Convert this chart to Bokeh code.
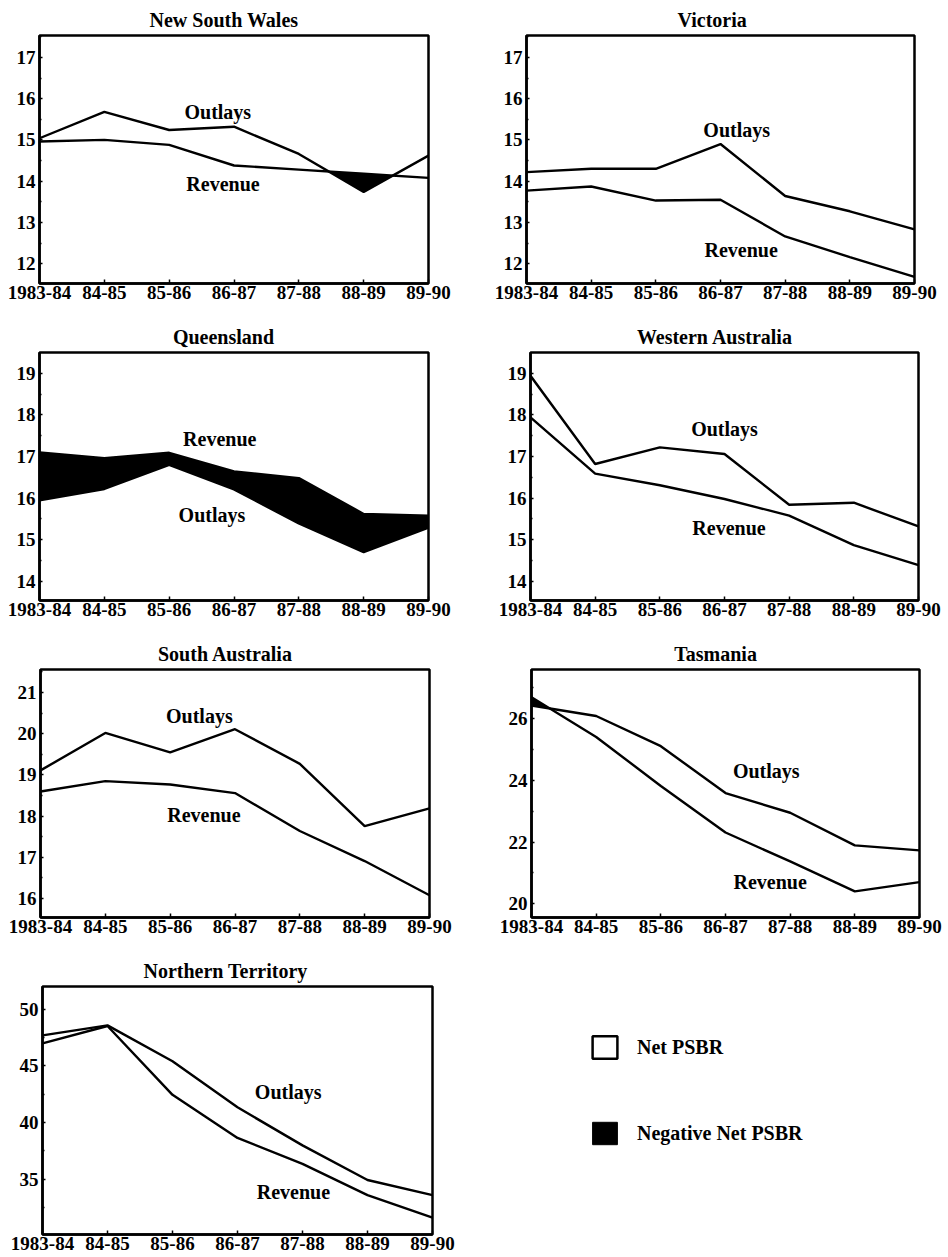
import numpy as np
from bokeh.plotting import figure
from bokeh.layouts import column, row
from bokeh.models import Range1d, FixedTicker, Legend, LegendItem
from bokeh.core.properties import value
from bokeh.embed import file_html
from bokeh.resources import INLINE

periods = ["1983-84", "84-85", "85-86", "86-87", "87-88", "88-89", "89-90"]

nsw_outlays = [15.04, 15.68, 15.24, 15.32, 14.66, 13.74, 14.62]
nsw_revenue = [14.96, 15.00, 14.88, 14.38, 14.28, 14.18, 14.08]

vic_outlays = [14.22, 14.30, 14.30, 14.90, 13.64, 13.27, 12.83]
vic_revenue = [13.77, 13.87, 13.53, 13.55, 12.66, 12.16, 11.68]

qld_outlays = [15.95, 16.22, 16.80, 16.21, 15.39, 14.70, 15.29]
qld_revenue = [17.10, 16.96, 17.09, 16.64, 16.48, 15.62, 15.58]

wa_outlays = [18.94, 16.82, 17.22, 17.06, 15.84, 15.89, 15.32]
wa_revenue = [17.94, 16.59, 16.31, 15.98, 15.58, 14.87, 14.39]

sa_outlays = [19.11, 20.02, 19.55, 20.11, 19.27, 17.76, 18.19]
sa_revenue = [18.60, 18.85, 18.77, 18.56, 17.64, 16.91, 16.08]

tas_outlays = [26.43, 26.09, 25.11, 23.59, 22.95, 21.89, 21.73]
tas_revenue = [26.70, 25.41, 23.82, 22.31, 21.37, 20.40, 20.70]

nt_outlays = [47.68, 48.57, 45.40, 41.33, 37.97, 34.91, 33.58]
nt_revenue = [46.97, 48.51, 42.43, 38.63, 36.34, 33.58, 31.59]

FONT = "Liberation Serif"
FS = "19px"
FS_BIG = "20px"
LW = 2.4

# approximate Times-Bold advance widths (per em) for centring titles
_W = {" ": .25, "A": .722, "N": .722, "S": .556, "T": .667, "V": .722, "W": 1.0,
      "Q": .778, "a": .5, "c": .444, "d": .556, "e": .444, "h": .556, "i": .278,
      "l": .278, "m": .833, "n": .556, "o": .5, "r": .444, "s": .389, "t": .333,
      "u": .556, "w": .722, "y": .5}


def text_width(s, px):
    return sum(_W.get(ch, .5) for ch in s) * px


def neg_area(x, out, rev):
    xs = []
    for i in range(len(x) - 1):
        xs.append(x[i])
        d0 = rev[i] - out[i]
        d1 = rev[i + 1] - out[i + 1]
        if d0 * d1 < 0:
            xs.append(x[i] + d0 / (d0 - d1))
    xs.append(x[-1])
    xs = np.array(xs, dtype=float)
    o = np.interp(xs, x, out)
    r = np.interp(xs, x, rev)
    return xs, o, np.maximum(o, r)


def panel(title, outlays, revenue, yr, yticks, yminor, labels, left, right, bottom,
          title_center):
    x = list(range(len(periods)))
    p = figure(frame_width=948 // 2 - left - right, frame_height=248,
               x_range=Range1d(0, len(periods) - 1), y_range=Range1d(*yr),
               output_backend="svg", toolbar_location=None, tools="",
               min_border_left=left, min_border_right=right,
               min_border_top=35, min_border_bottom=bottom,
               background_fill_color="white", border_fill_color="white")
    p.title.text = title
    p.title.text_font = FONT
    p.title.text_font_style = "bold"
    p.title.text_font_size = FS_BIG
    p.title.text_color = "black"
    p.title.align = "left"
    # centre the title on the panel (as in the original), not on the frame
    p.title.offset = title_center - left - text_width(title, 20) / 2
    p.title.standoff = 9
    p.grid.visible = False
    p.outline_line_color = "black"
    p.outline_line_width = 2.5
    p.outline_line_alpha = 1

    xs, lo, hi = neg_area(x, outlays, revenue)
    p.varea(x=xs, y1=lo, y2=hi, fill_color="black")
    p.line(x, outlays, line_color="black", line_width=LW)
    p.line(x, revenue, line_color="black", line_width=LW)

    for txt, (lx, ly) in labels.items():
        p.text(x=[lx], y=[ly], text=[txt], text_font=value(FONT),
               text_font_style="bold", text_font_size=FS_BIG,
               text_align="center", text_baseline="middle", text_color="black")

    xa = p.xaxis[0]
    xa.ticker = FixedTicker(ticks=x)
    xa.major_label_overrides = {i: s for i, s in enumerate(periods)}
    xa.major_tick_in = 4
    xa.major_tick_out = 0
    xa.minor_tick_line_color = None
    xa.major_label_standoff = 2

    ya = p.yaxis[0]
    ya.ticker = FixedTicker(ticks=yticks, minor_ticks=yminor)
    ya.major_tick_in = 3
    ya.major_tick_out = 0
    ya.minor_tick_in = 2
    ya.minor_tick_out = 0
    ya.major_label_standoff = 4

    for ax in (xa, ya):
        ax.axis_line_width = 2.5
        ax.axis_line_color = "black"
        ax.major_tick_line_width = 1.5
        ax.minor_tick_line_width = 1.5
        ax.major_label_text_font = FONT
        ax.major_label_text_font_style = "bold"
        ax.major_label_text_font_size = FS
        ax.major_label_text_color = "black"
    return p


def halves(ticks, step, lo, hi):
    return [t + step / 2 for t in [ticks[0] - step] + ticks if lo < t + step / 2 < hi]


nsw = panel("New South Wales", nsw_outlays, nsw_revenue, (11.52, 17.53),
            [12, 13, 14, 15, 16, 17], halves([12, 13, 14, 15, 16, 17], 1, 11.52, 17.53),
            {"Outlays": (2.75, 15.68), "Revenue": (2.83, 13.92)}, 39, 46, 34, 224)
vic = panel("Victoria", vic_outlays, vic_revenue, (11.52, 17.53),
            [12, 13, 14, 15, 16, 17], halves([12, 13, 14, 15, 16, 17], 1, 11.52, 17.53),
            {"Outlays": (3.25, 15.23), "Revenue": (3.32, 12.32)}, 52, 34, 34, 238)
qld = panel("Queensland", qld_outlays, qld_revenue, (13.54, 19.5),
            [14, 15, 16, 17, 18, 19], halves([14, 15, 16, 17, 18, 19], 1, 13.54, 19.5),
            {"Revenue": (2.78, 17.43), "Outlays": (2.66, 15.59)}, 39, 46, 34, 223)
wa = panel("Western Australia", wa_outlays, wa_revenue, (13.54, 19.5),
           [14, 15, 16, 17, 18, 19], halves([14, 15, 16, 17, 18, 19], 1, 13.54, 19.5),
           {"Outlays": (3.0, 17.66), "Revenue": (3.07, 15.28)}, 56, 30, 34, 241)
sa = panel("South Australia", sa_outlays, sa_revenue, (15.54, 21.56),
           [16, 17, 18, 19, 20, 21], halves([16, 17, 18, 19, 20, 21], 1, 15.54, 21.56),
           {"Outlays": (2.45, 20.42), "Revenue": (2.52, 18.02)}, 40, 45, 34, 225)
tas = panel("Tasmania", tas_outlays, tas_revenue, (19.55, 27.6),
            [20, 22, 24, 26], halves([20, 22, 24, 26], 2, 19.55, 27.6),
            {"Outlays": (3.63, 24.32), "Revenue": (3.69, 20.70)}, 57, 29, 34, 242)
nt = panel("Northern Territory", nt_outlays, nt_revenue, (30.1, 52.0),
           [35, 40, 45, 50], halves([35, 40, 45, 50], 5, 30.1, 52.0),
           {"Outlays": (3.78, 42.72), "Revenue": (3.86, 33.81)}, 42, 42, 22, 226)

# legend panel (swatch renderers sit outside the visible range; only the legend shows them)
lg = figure(width=474, height=305, x_range=Range1d(0, 1), y_range=Range1d(0, 1),
            output_backend="svg", toolbar_location=None, tools="",
            x_axis_location=None, y_axis_location=None,
            min_border=0, outline_line_color=None,
            background_fill_color="white", border_fill_color="white")
lg.grid.visible = False
r_pos = lg.quad(left=[5], right=[6], top=[6], bottom=[5], fill_color="white",
                line_color="black", line_width=2.5)
r_neg = lg.quad(left=[5], right=[6], top=[6], bottom=[5], fill_color="black",
                line_color="black", line_width=1)
legend = Legend(items=[LegendItem(label="Net PSBR", renderers=[r_pos]),
                       LegendItem(label="Negative Net PSBR", renderers=[r_neg])],
                location=(115, 87), orientation="vertical",
                glyph_width=31, glyph_height=28, label_standoff=17, spacing=58,
                padding=0, margin=0, border_line_alpha=0, background_fill_alpha=0,
                label_text_font=FONT, label_text_font_style="bold",
                label_text_font_size=FS_BIG, label_text_color="black")
lg.add_layout(legend)

layout = column(row(nsw, vic), row(qld, wa), row(sa, tas), row(nt, lg))

with open("out.html", "w") as f:
    f.write(file_html(layout, INLINE))
